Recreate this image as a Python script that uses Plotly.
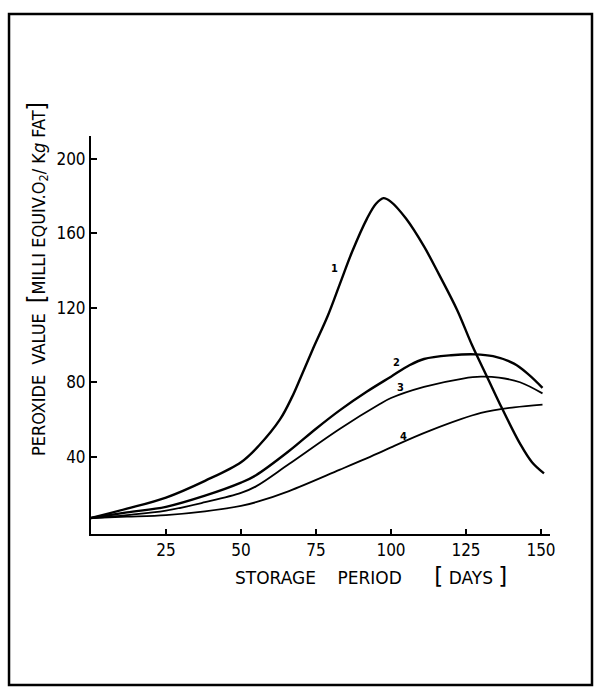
import plotly.graph_objects as go

# Peroxide value (milli equiv. O2 / kg fat) over storage period (days)
days_1 = [0, 12, 25, 38, 50, 56, 63, 67, 70, 74, 79, 83, 87, 92, 95, 97.5, 100, 105, 111, 116, 122, 127, 132, 137, 143, 147, 151]
pv_1 = [7, 12, 18, 27, 37, 46, 60, 72, 83, 98, 116, 133, 150, 168, 176, 179, 177, 168, 153, 138, 119, 100, 83, 66, 47, 37, 31]

days_2 = [0, 12, 25, 38, 50, 55, 66, 75, 83, 92, 100, 106, 111, 120, 128, 134, 141, 146, 150.5]
pv_2 = [7, 10, 13, 19, 26, 30, 43, 55, 65, 75, 83, 89, 92.5, 94.5, 95, 94, 90, 84, 77]

days_3 = [0, 12, 25, 38, 50, 55, 66, 83, 96, 100, 111, 124, 130, 136, 143, 150.5]
pv_3 = [7, 8.6, 11, 15.5, 20.5, 24, 36, 55, 68, 71.5, 77.5, 82, 83, 82.5, 80, 74]

days_4 = [0, 12, 25, 38, 50, 55, 66, 83, 96, 100, 113, 130, 141, 150.5]
pv_4 = [7, 7.7, 8.6, 10.6, 13.5, 15.5, 21.5, 33, 42, 45, 54, 63.5, 66.5, 68]

curve_labels = ["1", "2", "3", "4"]
label_days = [81, 101.7, 103, 104]
label_pv = [141, 90.5, 77, 51]

x_ticks = [25, 50, 75, 100, 125, 150]
y_ticks = [40, 80, 120, 160, 200]

FONT = "DejaVu Sans Condensed, DejaVu Sans, sans-serif"
NB = "\u00a0"

fig = go.Figure()
series = [(days_1, pv_1, 2.4), (days_2, pv_2, 2.4), (days_3, pv_3, 1.8), (days_4, pv_4, 1.8)]
for d, v, w in series:
    fig.add_trace(go.Scatter(
        x=d, y=v, mode="lines",
        line=dict(color="black", width=w, shape="spline", smoothing=1.0),
        showlegend=False, hoverinfo="skip",
    ))

for lab, d, v in zip(curve_labels, label_days, label_pv):
    fig.add_annotation(x=d, y=v, text=f"<b>{lab}</b>", showarrow=False,
                       font=dict(family=FONT, size=11, color="black"))

# axis titles
fig.add_annotation(
    xref="paper", yref="paper", x=-0.118, y=0.64,
    xanchor="center", yanchor="middle",
    text=(f"PEROXIDE{NB*2}VALUE{NB*2}<span style='font-size:24px'>[</span>"
          "MILLI EQUIV.O<sub>2</sub>/ K<i>g</i> FAT<span style='font-size:24px'>]</span>"),
    textangle=-90, showarrow=False,
    font=dict(family=FONT, size=18, color="black"),
)
fig.add_annotation(
    xref="paper", yref="paper", x=0.61, y=-0.1055,
    xanchor="center", yanchor="middle",
    text=(f"STORAGE{NB*4}PERIOD{NB*6}"
          f"<span style='font-size:23px'>[</span>{NB}DAYS{NB}<span style='font-size:23px'>]</span>"),
    showarrow=False,
    font=dict(family="DejaVu Sans", size=17, color="black"),
)

# outer frame
fig.add_shape(type="rect", xref="paper", yref="paper",
              x0=-0.1786, x1=1.0915, y0=-0.3794, y1=1.3065,
              line=dict(color="black", width=2.5))

fig.update_xaxes(
    range=[0, 153], tickvals=x_ticks, ticktext=[str(t) for t in x_ticks],
    showline=True, linecolor="black", linewidth=2,
    ticks="inside", ticklen=5, tickwidth=1.5, tickcolor="black",
    showgrid=False, zeroline=False,
    tickfont=dict(family=FONT, size=17, color="black"),
)
fig.update_yaxes(
    range=[-1.6, 212.4], tickvals=y_ticks, ticktext=[str(t) for t in y_ticks],
    showline=True, linecolor="black", linewidth=2,
    ticks="inside", ticklen=6, tickwidth=1.5, tickcolor="black",
    showgrid=False, zeroline=False,
    tickfont=dict(family=FONT, size=17, color="black"),
)
fig.update_layout(
    width=595, height=688,
    margin=dict(l=91, r=45, t=136, b=154),
    plot_bgcolor="white", paper_bgcolor="white",
)

fig.write_html("out.html")
